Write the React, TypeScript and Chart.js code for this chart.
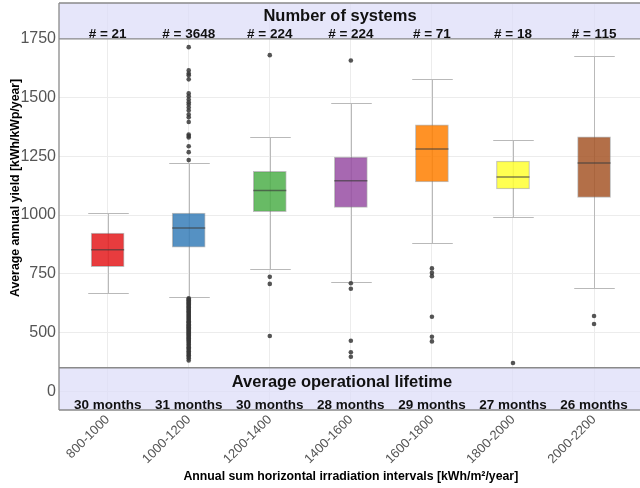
import React, { useEffect, useRef } from 'react';
import { Chart, registerables } from 'chart.js';

Chart.register(...registerables);

const categories = ['800-1000', '1000-1200', '1200-1400', '1400-1600', '1600-1800', '1800-2000', '2000-2200'];
const systemCounts = [21, 3648, 224, 224, 71, 18, 115];
const lifetimeMonths = [30, 31, 30, 28, 29, 27, 26];

const whiskerLow = [669, 650, 770, 714, 880, 990, 688];
const q1 = [780, 863, 1014, 1033, 1141, 1111, 1075];
const medians = [852, 945, 1105, 1146, 1281, 1162, 1222];
const q3 = [923, 1009, 1186, 1247, 1384, 1230, 1333];
const whiskerHigh = [1009, 1222, 1333, 1478, 1580, 1318, 1677];

const outliers800: number[] = [];
const outliers1000 = [
  1715, 1616, 1603, 1595, 1578, 1518, 1506, 1492, 1480, 1471, 1458, 1445, 1428, 1416, 1396, 1343, 1337, 1330, 1293, 1268, 1234,
  646, 641, 637, 632, 628, 623, 619, 614, 610, 606, 601, 597, 592, 588, 584, 579, 575, 570, 566, 562, 557, 553, 548, 544,
  540, 535, 531, 526, 522, 518, 513, 509, 504, 500, 496, 491, 487, 482, 478, 474, 469, 465, 460, 455, 449, 443, 437, 432,
  426, 420, 414, 408, 403, 397, 390, 381,
];
const outliers1200 = [1681, 737, 707, 485];
const outliers1400 = [1658, 710, 686, 465, 416, 397];
const outliers1600 = [773, 754, 740, 567, 482, 462];
const outliers1800 = [370];
const outliers2000 = [570, 536];
const outlierGroups = [outliers800, outliers1000, outliers1200, outliers1400, outliers1600, outliers1800, outliers2000];

const yTickValues = [250, 500, 750, 1000, 1250, 1500, 1750];
const yTickLabels = ['0', '500', '750', '1000', '1250', '1500', '1750'];

const boxColors = [
  'rgba(228,26,28,0.85)',
  'rgba(55,126,184,0.85)',
  'rgba(77,175,74,0.85)',
  'rgba(152,78,163,0.85)',
  'rgba(255,127,0,0.85)',
  'rgba(255,255,51,0.85)',
  'rgba(166,86,40,0.85)',
];

const Y_MIN = 170;
const Y_MAX = 1903;
const HEADER_FROM = 1750;
const FOOTER_TO = 350;
const CAP_HALF = 0.25;
const BOX_PX = 33;
const FONT = '"Liberation Sans", Arial, Helvetica, sans-serif';

const boxPlugin = {
  id: 'boxExtras',
  beforeDatasetsDraw(chart: any) {
    const { ctx, chartArea: ca, scales } = chart;
    const x = scales.x;
    const y = scales.y;
    ctx.save();
    ctx.fillStyle = 'rgba(220,220,248,0.72)';
    const hb = y.getPixelForValue(HEADER_FROM);
    ctx.fillRect(ca.left, ca.top, ca.right - ca.left, hb - ca.top);
    const ft = y.getPixelForValue(FOOTER_TO);
    ctx.fillRect(ca.left, ft, ca.right - ca.left, ca.bottom - ft);

    ctx.strokeStyle = '#b9b9b9';
    ctx.lineWidth = 1;
    categories.forEach((_, i) => {
      const cx = Math.round(x.getPixelForValue(i + 1)) + 0.5;
      const half = x.getPixelForValue(i + 1 + CAP_HALF) - x.getPixelForValue(i + 1);
      const yl = Math.round(y.getPixelForValue(whiskerLow[i])) + 0.5;
      const yh = Math.round(y.getPixelForValue(whiskerHigh[i])) + 0.5;
      ctx.beginPath();
      ctx.moveTo(cx, yl);
      ctx.lineTo(cx, yh);
      ctx.moveTo(cx - half, yl);
      ctx.lineTo(cx + half, yl);
      ctx.moveTo(cx - half, yh);
      ctx.lineTo(cx + half, yh);
      ctx.stroke();
    });
    ctx.restore();
  },
  afterDatasetsDraw(chart: any) {
    const { ctx, chartArea: ca, scales } = chart;
    const x = scales.x;
    const y = scales.y;
    ctx.save();
    // medians
    ctx.strokeStyle = 'rgba(60,60,60,0.65)';
    ctx.lineWidth = 1.5;
    categories.forEach((_, i) => {
      const cx = x.getPixelForValue(i + 1);
      const ym = y.getPixelForValue(medians[i]);
      ctx.beginPath();
      ctx.moveTo(cx - BOX_PX / 2, ym);
      ctx.lineTo(cx + BOX_PX / 2, ym);
      ctx.stroke();
    });

    // panel borders
    const hb = y.getPixelForValue(HEADER_FROM);
    const ft = y.getPixelForValue(FOOTER_TO);
    ctx.strokeStyle = '#8a8a8a';
    ctx.lineWidth = 1.3;
    ctx.beginPath();
    ctx.moveTo(ca.left, ca.top);
    ctx.lineTo(ca.right, ca.top);
    ctx.moveTo(ca.left, hb);
    ctx.lineTo(ca.right, hb);
    ctx.moveTo(ca.left, ft);
    ctx.lineTo(ca.right, ft);
    ctx.moveTo(ca.left, ca.bottom);
    ctx.lineTo(ca.right, ca.bottom);
    ctx.moveTo(ca.left, ca.top);
    ctx.lineTo(ca.left, ca.bottom);
    ctx.stroke();

    // band texts
    ctx.fillStyle = '#111';
    ctx.textAlign = 'center';
    ctx.textBaseline = 'alphabetic';
    ctx.font = `bold 16.5px ${FONT}`;
    ctx.fillText('Number of systems', 340, 20.5);
    ctx.fillText('Average operational lifetime', 342, 386.5);
    ctx.font = `bold 13.5px ${FONT}`;
    categories.forEach((_, i) => {
      const cx = x.getPixelForValue(i + 1);
      ctx.fillText(`# = ${systemCounts[i]}`, cx, 37.5);
      ctx.fillText(`${lifetimeMonths[i]} months`, cx, 408.5);
    });

    // y axis title
    ctx.save();
    ctx.translate(19.3, 297);
    ctx.rotate(-Math.PI / 2);
    ctx.textAlign = 'left';
    ctx.font = `bold 12.3px ${FONT}`;
    ctx.fillStyle = '#000';
    ctx.fillText('Average annual yield [kWh/kWp/year]', 0, 0);
    ctx.restore();

    ctx.restore();
  },
};

export default function App() {
  const canvasRef = useRef<HTMLCanvasElement | null>(null);

  useEffect(() => {
    const canvas = canvasRef.current;
    if (!canvas) return;
    Chart.defaults.font.family = FONT;

    const boxData = categories.map((_, i) => ({ x: i + 1, y: [q1[i], q3[i]] }));
    const outlierData: { x: number; y: number }[] = [];
    outlierGroups.forEach((group, i) => {
      group.forEach((v) => outlierData.push({ x: i + 1, y: v }));
    });

    const chart = new Chart(canvas, {
      type: 'bar',
      data: {
        datasets: [
          {
            type: 'bar',
            data: boxData as any,
            backgroundColor: boxColors,
            borderColor: 'rgba(110,110,110,0.45)',
            borderWidth: 1,
            borderSkipped: false,
            barThickness: BOX_PX,
            grouped: false,
          } as any,
          {
            type: 'scatter',
            data: outlierData,
            pointRadius: 2.3,
            pointHoverRadius: 2.3,
            backgroundColor: 'rgba(55,55,55,0.85)',
            borderWidth: 0,
          } as any,
        ],
      },
      options: {
        responsive: false,
        animation: false,
        events: [],
        layout: { padding: { top: 3, left: 0, right: 0, bottom: 0 } },
        plugins: {
          legend: { display: false },
          tooltip: { enabled: false },
        },
        scales: {
          x: {
            type: 'linear',
            offset: false,
            min: 0.4,
            max: 7.6,
            afterBuildTicks: (scale: any) => {
              scale.ticks = categories.map((_, i) => ({ value: i + 1 }));
            },
            afterFit: (scale: any) => {
              scale.height = 78;
              scale.paddingLeft = 0;
              scale.paddingRight = 0;
            },
            ticks: {
              autoSkip: false,
              minRotation: 45,
              maxRotation: 45,
              padding: 2,
              color: '#555',
              font: { size: 13 },
              callback: (v: any) => categories[Math.round(Number(v)) - 1] ?? '',
            },
            grid: { color: '#ececec', lineWidth: 1, drawTicks: false, offset: false },
            border: { display: false },
            title: {
              display: true,
              text: 'Annual sum horizontal irradiation intervals [kWh/m²/year]',
              color: '#000',
              font: { size: 12.3, weight: 'bold' },
              padding: { top: 0, bottom: 4.5 },
            },
          },
          y: {
            type: 'linear',
            min: Y_MIN,
            max: Y_MAX,
            afterBuildTicks: (scale: any) => {
              scale.ticks = yTickValues.map((v) => ({ value: v }));
            },
            afterFit: (scale: any) => {
              scale.width = 59;
              scale.paddingTop = 0;
              scale.paddingBottom = 0;
            },
            ticks: {
              padding: 3,
              color: '#555',
              font: { size: 16 },
              callback: (v: any) => {
                const idx = yTickValues.indexOf(Number(v));
                return idx >= 0 ? yTickLabels[idx] : '';
              },
            },
            grid: { color: '#ececec', lineWidth: 1, drawTicks: false },
            border: { display: false },
          },
        },
      } as any,
      plugins: [boxPlugin],
    });

    return () => chart.destroy();
  }, []);

  return (
    <div
      style={{
        position: 'fixed',
        left: 0,
        top: 0,
        width: 640,
        height: 488,
        overflow: 'hidden',
        background: '#fff',
      }}
    >
      <canvas ref={canvasRef} width={645} height={488} style={{ display: 'block', width: 645, height: 488 }} />
    </div>
  );
}
